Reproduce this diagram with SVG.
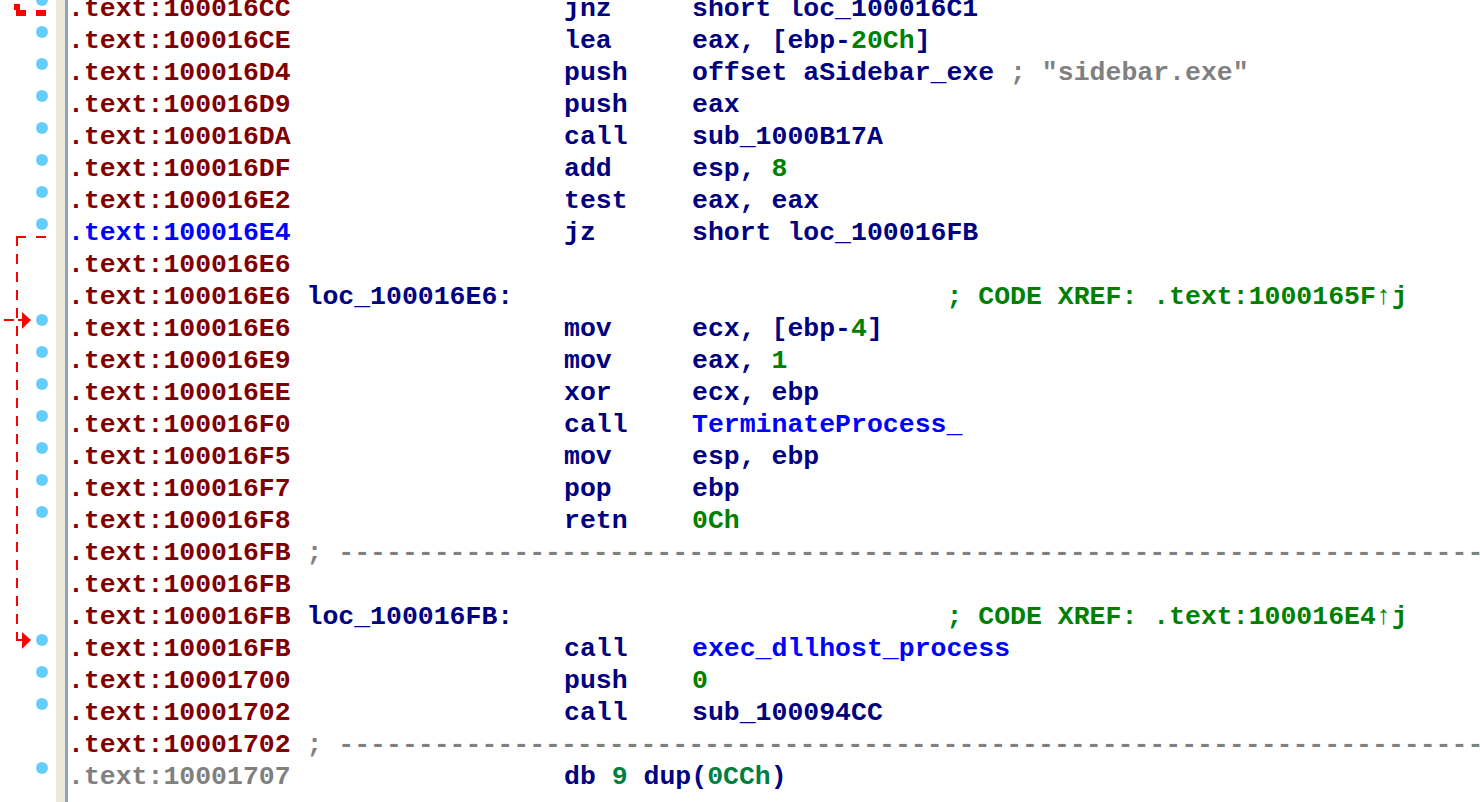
<svg xmlns="http://www.w3.org/2000/svg" width="1480" height="802" viewBox="0 0 1480 802">
<style>
text{font-family:"Liberation Mono","DejaVu Sans Mono",monospace;font-size:26.5px;font-weight:bold}
.a{fill:#800000}.ab{fill:#0000ff}.ag{fill:#808080}
.n{fill:#000080}.b{fill:#0000ff}.g{fill:#008000}.gr{fill:#808080}.dg{fill:#008040}
.dot{fill:#66ccff}
.dl{stroke:#ff0000;stroke-width:2;fill:none;stroke-dasharray:10 8}
.ah{fill:#ff0000}
</style>
<rect x="0" y="0" width="1480" height="802" fill="#ffffff"/>
<g id="margin">
<rect x="56" y="0" width="9" height="802" fill="#ece9d8"/>
<rect x="65" y="0" width="3" height="802" fill="#8aa4c2"/>
<circle class="dot" cx="42" cy="0" r="6"/>
<circle class="dot" cx="42" cy="32" r="6"/>
<circle class="dot" cx="42" cy="64" r="6"/>
<circle class="dot" cx="42" cy="96" r="6"/>
<circle class="dot" cx="42" cy="128" r="6"/>
<circle class="dot" cx="42" cy="160" r="6"/>
<circle class="dot" cx="42" cy="192" r="6"/>
<circle class="dot" cx="42" cy="224" r="6"/>
<circle class="dot" cx="42" cy="320" r="6"/>
<circle class="dot" cx="42" cy="352" r="6"/>
<circle class="dot" cx="42" cy="384" r="6"/>
<circle class="dot" cx="42" cy="416" r="6"/>
<circle class="dot" cx="42" cy="448" r="6"/>
<circle class="dot" cx="42" cy="480" r="6"/>
<circle class="dot" cx="42" cy="512" r="6"/>
<circle class="dot" cx="42" cy="640" r="6"/>
<circle class="dot" cx="42" cy="672" r="6"/>
<circle class="dot" cx="42" cy="704" r="6"/>
<circle class="dot" cx="42" cy="768" r="6"/>
</g>
<g id="connectors">
<rect class="ah" x="14" y="4" width="6" height="6"/>
<rect class="ah" x="16" y="10" width="10" height="6"/>
<rect class="ah" x="36" y="10" width="10" height="6"/>
<line class="dl" x1="46" y1="237" x2="17" y2="237" style="stroke-dasharray:10 10"/>
<line class="dl" x1="17" y1="236" x2="17" y2="641"/>
<line x1="16" y1="640" x2="23" y2="640" stroke="#ff0000" stroke-width="2"/>
<polygon class="ah" points="22,632 31,640 22,649"/>
<line x1="4" y1="320" x2="14" y2="320" stroke="#ff0000" stroke-width="2"/>
<line x1="18" y1="320" x2="23" y2="320" stroke="#ff0000" stroke-width="2"/>
<polygon class="ah" points="22,312 31,320 22,329"/>
</g>
<g id="row0"><text class="a" x="68" y="16">.text:100016CC</text><text class="n" x="564" y="16">jnz</text><text class="n" x="692" y="16">short loc_100016C1</text></g>
<g id="row1"><text class="a" x="68" y="48">.text:100016CE</text><text class="n" x="564" y="48">lea</text><text class="n" x="692" y="48">eax, [ebp-<tspan class="g">20Ch</tspan>]</text></g>
<g id="row2"><text class="a" x="68" y="80">.text:100016D4</text><text class="n" x="564" y="80">push</text><text class="n" x="692" y="80">offset aSidebar_exe <tspan class="gr">; "sidebar.exe"</tspan></text></g>
<g id="row3"><text class="a" x="68" y="112">.text:100016D9</text><text class="n" x="564" y="112">push</text><text class="n" x="692" y="112">eax</text></g>
<g id="row4"><text class="a" x="68" y="144">.text:100016DA</text><text class="n" x="564" y="144">call</text><text class="n" x="692" y="144">sub_1000B17A</text></g>
<g id="row5"><text class="a" x="68" y="176">.text:100016DF</text><text class="n" x="564" y="176">add</text><text class="n" x="692" y="176">esp, <tspan class="g">8</tspan></text></g>
<g id="row6"><text class="a" x="68" y="208">.text:100016E2</text><text class="n" x="564" y="208">test</text><text class="n" x="692" y="208">eax, eax</text></g>
<g id="row7"><text class="ab" x="68" y="240">.text:100016E4</text><text class="n" x="564" y="240">jz</text><text class="n" x="692" y="240">short loc_100016FB</text></g>
<g id="row8"><text class="a" x="68" y="272">.text:100016E6</text></g>
<g id="row9"><text class="a" x="68" y="304">.text:100016E6</text><text class="n" x="306.5" y="304">loc_100016E6:</text><text class="g" x="946.5" y="304">; CODE XREF: .text:1000165F↑j</text></g>
<g id="row10"><text class="a" x="68" y="336">.text:100016E6</text><text class="n" x="564" y="336">mov</text><text class="n" x="692" y="336">ecx, [ebp-<tspan class="g">4</tspan>]</text></g>
<g id="row11"><text class="a" x="68" y="368">.text:100016E9</text><text class="n" x="564" y="368">mov</text><text class="n" x="692" y="368">eax, <tspan class="g">1</tspan></text></g>
<g id="row12"><text class="a" x="68" y="400">.text:100016EE</text><text class="n" x="564" y="400">xor</text><text class="n" x="692" y="400">ecx, ebp</text></g>
<g id="row13"><text class="a" x="68" y="432">.text:100016F0</text><text class="n" x="564" y="432">call</text><text class="b" x="692" y="432">TerminateProcess_</text></g>
<g id="row14"><text class="a" x="68" y="464">.text:100016F5</text><text class="n" x="564" y="464">mov</text><text class="n" x="692" y="464">esp, ebp</text></g>
<g id="row15"><text class="a" x="68" y="496">.text:100016F7</text><text class="n" x="564" y="496">pop</text><text class="n" x="692" y="496">ebp</text></g>
<g id="row16"><text class="a" x="68" y="528">.text:100016F8</text><text class="n" x="564" y="528">retn</text><text class="g" x="692" y="528">0Ch</text></g>
<g id="row17"><text class="a" x="68" y="560">.text:100016FB</text><text class="gr" x="306.5" y="560">; ------------------------------------------------------------------------</text></g>
<g id="row18"><text class="a" x="68" y="592">.text:100016FB</text></g>
<g id="row19"><text class="a" x="68" y="624">.text:100016FB</text><text class="n" x="306.5" y="624">loc_100016FB:</text><text class="g" x="946.5" y="624">; CODE XREF: .text:100016E4↑j</text></g>
<g id="row20"><text class="a" x="68" y="656">.text:100016FB</text><text class="n" x="564" y="656">call</text><text class="b" x="692" y="656">exec_dllhost_process</text></g>
<g id="row21"><text class="a" x="68" y="688">.text:10001700</text><text class="n" x="564" y="688">push</text><text class="g" x="692" y="688">0</text></g>
<g id="row22"><text class="a" x="68" y="720">.text:10001702</text><text class="n" x="564" y="720">call</text><text class="n" x="692" y="720">sub_100094CC</text></g>
<g id="row23"><text class="a" x="68" y="752">.text:10001702</text><text class="gr" x="306.5" y="752">; ------------------------------------------------------------------------</text></g>
<g id="row24"><text class="ag" x="68" y="784">.text:10001707</text><text class="n" x="564" y="784">db <tspan class="dg">9</tspan> dup(<tspan class="dg">0CCh</tspan>)</text></g>
</svg>
